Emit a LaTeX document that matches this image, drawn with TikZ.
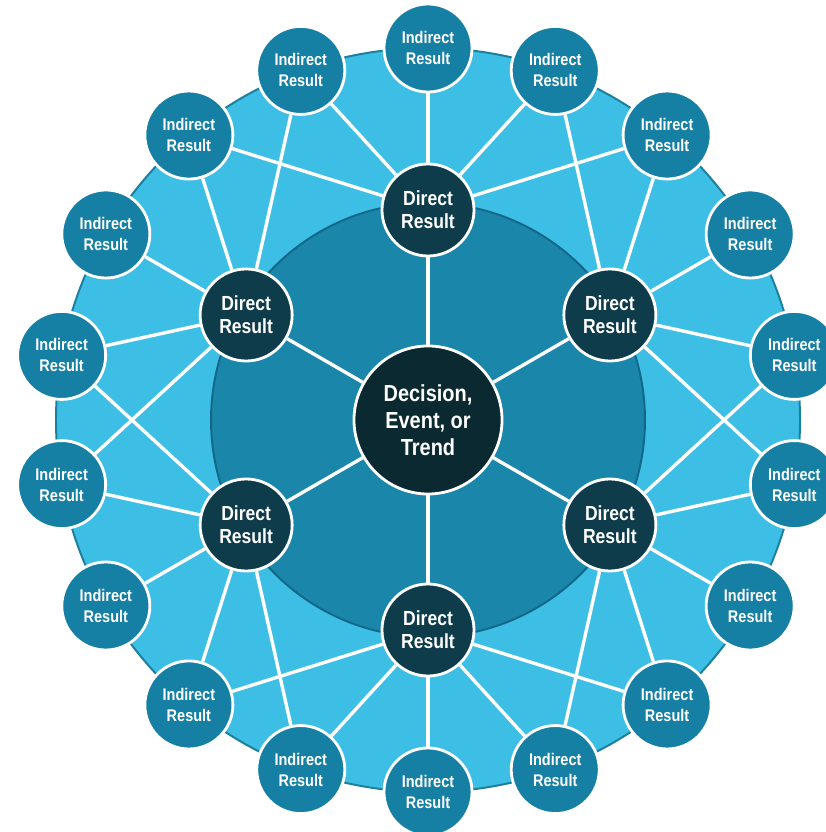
\documentclass[tikz,border=0pt]{standalone}
\usepackage{fontspec}
\setmainfont{Liberation Sans}[FakeStretch=0.86]
\usepackage{xcolor}
\usetikzlibrary{backgrounds}
\definecolor{ringblue}{HTML}{3DBFE5}
\definecolor{ringedge}{HTML}{1B7FA0}
\definecolor{innerblue}{HTML}{1A86A9}
\definecolor{inneredge}{HTML}{12688A}
\definecolor{indirectblue}{HTML}{167FA4}
\definecolor{directblue}{HTML}{0E3C4B}
\definecolor{coreblue}{HTML}{0A2930}

\begin{document}
\begin{tikzpicture}[x=0.025cm, y=0.025cm,
    bubble/.style={circle, draw=white, line width=2pt, text=white, align=center, inner sep=0pt},
    indirect/.style={bubble, fill=indirectblue, minimum size=2.2cm, font=\fontsize{12}{15}\selectfont\bfseries},
    direct/.style={bubble, fill=directblue, minimum size=2.3cm, font=\fontsize{14.5}{16.5}\selectfont\bfseries},
    core/.style={bubble, fill=coreblue, minimum size=3.7cm, font=\fontsize{16.5}{19}\selectfont\bfseries},
    link/.style={white, line width=2.4pt}]
    \useasboundingbox (-428,-412) rectangle (397,420);
    \node[core] (core) at (0,0) {Decision,\\Event, or\\Trend};
    \foreach \i in {0,...,5}
        \node[direct] (d\i) at (90-60*\i:210) {Direct\\Result};
    \foreach \j in {0,...,17}
        \node[indirect] (r\j) at (90-20*\j:372) {Indirect\\Result};
    \begin{pgfonlayer}{background}
        \filldraw[fill=ringblue, draw=ringedge, line width=1.4pt] (0,0) circle (372);
        \filldraw[fill=innerblue, draw=inneredge, line width=1.4pt] (0,0) circle (217);
        \foreach \i in {0,...,5} {
            \draw[link] (core) -- (d\i);
            \foreach \k in {-2,...,2} {
                \pgfmathtruncatemacro{\j}{mod(3*\i+\k+18,18)}
                \draw[link] (d\i) -- (r\j);
            }
        }
    \end{pgfonlayer}
\end{tikzpicture}
\end{document}
